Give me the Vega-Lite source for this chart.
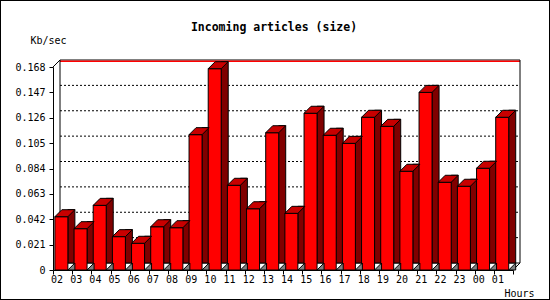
{
  "$schema": "https://vega.github.io/schema/vega-lite/v6.json",
  "width": 550,
  "height": 300,
  "autosize": "none",
  "padding": 0,
  "background": "white",
  "title": {
    "text": "Incoming articles (size)",
    "font": "DejaVu Sans Mono",
    "fontSize": 11.5,
    "fontWeight": "bold",
    "color": "black",
    "anchor": "middle",
    "frame": "group",
    "orient": "top",
    "offset": -42,
    "baseline": "alphabetic",
    "dx": -1
  },
  "config": {
    "view": {"stroke": "black", "strokeWidth": 2},
    "axis": {
      "labelFont": "DejaVu Sans Mono",
      "labelFontSize": 10,
      "labelColor": "black",
      "titleFont": "DejaVu Sans Mono",
      "titleFontSize": 10,
      "titleFontWeight": "normal",
      "titleColor": "black",
      "domainColor": "black",
      "tickColor": "black",
      "grid": false,
      "labelOverlap": false
    }
  },
  "data": {
    "values": [
      {"hour": "02", "kb": 0.0441},
      {"hour": "03", "kb": 0.0342},
      {"hour": "04", "kb": 0.0535},
      {"hour": "05", "kb": 0.0276},
      {"hour": "06", "kb": 0.0221},
      {"hour": "07", "kb": 0.0358},
      {"hour": "08", "kb": 0.0350},
      {"hour": "09", "kb": 0.1120},
      {"hour": "10", "kb": 0.1666},
      {"hour": "11", "kb": 0.0701},
      {"hour": "12", "kb": 0.0507},
      {"hour": "13", "kb": 0.1136},
      {"hour": "14", "kb": 0.0469},
      {"hour": "15", "kb": 0.1297},
      {"hour": "16", "kb": 0.1115},
      {"hour": "17", "kb": 0.1048},
      {"hour": "18", "kb": 0.1264},
      {"hour": "19", "kb": 0.1189},
      {"hour": "20", "kb": 0.0817},
      {"hour": "21", "kb": 0.1470},
      {"hour": "22", "kb": 0.0726},
      {"hour": "23", "kb": 0.0693},
      {"hour": "00", "kb": 0.0842},
      {"hour": "01", "kb": 0.1264}
    ]
  },
  "layer": [
    {
      "data": {"values": [{"level": 0.021}, {"level": 0.042}, {"level": 0.063}, {"level": 0.084}, {"level": 0.105}, {"level": 0.126}, {"level": 0.147}]},
      "mark": {"type": "rule", "color": "black", "strokeWidth": 1, "strokeDash": [2, 2], "xOffset": 7, "x2Offset": 7, "yOffset": -7},
      "encoding": {
        "x": {"datum": "02", "type": "ordinal", "bandPosition": 0},
        "x2": {"datum": "01", "bandPosition": 1},
        "y": {"field": "level", "type": "quantitative"}
      }
    },
    {
      "data": {"values": [{}]},
      "layer": [
        {
          "mark": {"type": "rule", "color": "black", "strokeWidth": 1, "xOffset": 7, "x2Offset": 7, "yOffset": -7},
          "encoding": {
            "x": {"datum": "02", "type": "ordinal", "bandPosition": 0},
            "x2": {"datum": "01", "bandPosition": 1},
            "y": {"datum": 0.168, "type": "quantitative"}
          }
        },
        {
          "mark": {"type": "rule", "color": "#ff0000", "strokeWidth": 1.5, "xOffset": 7, "x2Offset": 7, "yOffset": -5.8},
          "encoding": {
            "x": {"datum": "02", "type": "ordinal", "bandPosition": 0},
            "x2": {"datum": "01", "bandPosition": 1},
            "y": {"datum": 0.168, "type": "quantitative"}
          }
        },
        {
          "mark": {"type": "rule", "color": "black", "strokeWidth": 1, "xOffset": 7, "x2Offset": 7, "yOffset": -7},
          "encoding": {
            "x": {"datum": "02", "type": "ordinal", "bandPosition": 0},
            "x2": {"datum": "01", "bandPosition": 1},
            "y": {"datum": 0, "type": "quantitative"}
          }
        },
        {
          "mark": {"type": "rule", "color": "black", "strokeWidth": 1, "xOffset": 7, "yOffset": -7, "y2Offset": -7},
          "encoding": {
            "x": {"datum": "02", "type": "ordinal", "bandPosition": 0},
            "y": {"datum": 0.168, "type": "quantitative"},
            "y2": {"datum": 0}
          }
        },
        {
          "mark": {"type": "rule", "color": "black", "strokeWidth": 1, "xOffset": 7, "yOffset": -7, "y2Offset": -7},
          "encoding": {
            "x": {"datum": "01", "type": "ordinal", "bandPosition": 1},
            "y": {"datum": 0.168, "type": "quantitative"},
            "y2": {"datum": 0}
          }
        },
        {
          "mark": {"type": "rule", "color": "black", "strokeWidth": 1, "x2Offset": 7, "y2Offset": -7},
          "encoding": {
            "x": {"datum": "02", "type": "ordinal", "bandPosition": 0},
            "x2": {"datum": "02", "bandPosition": 0},
            "y": {"datum": 0.168, "type": "quantitative"},
            "y2": {"datum": 0.168}
          }
        },
        {
          "mark": {"type": "rule", "color": "black", "strokeWidth": 1, "x2Offset": 7, "y2Offset": -7},
          "encoding": {
            "x": {"datum": "01", "type": "ordinal", "bandPosition": 1},
            "x2": {"datum": "01", "bandPosition": 1},
            "y": {"datum": 0, "type": "quantitative"},
            "y2": {"datum": 0}
          }
        }
      ]
    },
    {
      "mark": {"type": "bar", "width": 7, "xOffset": 8.8, "yOffset": -7, "fill": "#800000", "stroke": "black", "strokeWidth": 1},
      "encoding": {
        "x": {
          "field": "hour", "type": "ordinal",
          "scale": {"type": "band", "domain": ["02","03","04","05","06","07","08","09","10","11","12","13","14","15","16","17","18","19","20","21","22","23","00","01"], "range": [53, 513], "paddingInner": 0, "paddingOuter": 0},
          "axis": {
            "title": "Hours", "orient": "bottom", "offset": -30, "tickBand": "extent", "tickSize": 4,
            "labelPadding": 5, "labelAngle": 0, "labelFlush": false,
            "titleX": 534, "titleY": 26, "titleAlign": "right", "titleBaseline": "alphabetic"
          }
        },
        "y": {
          "field": "kb", "type": "quantitative",
          "scale": {"domain": [0, 0.168], "range": [270, 67], "nice": false, "zero": true},
          "axis": {
            "title": "Kb/sec", "orient": "left", "offset": -53,
            "values": [0, 0.021, 0.042, 0.063, 0.084, 0.105, 0.126, 0.147, 0.168],
            "tickCount": 20,
            "labelExpr": "datum.value == 0 ? '0' : format(datum.value, '.3f')",
            "tickSize": 4, "labelPadding": 4, "labelFlush": false, "labelOverlap": false,
            "titleAngle": 0, "titleX": -23, "titleY": 43, "titleAlign": "left", "titleBaseline": "alphabetic"
          }
        }
      }
    },
    {
      "mark": {"type": "bar", "width": 13, "xOffset": -1.2, "fill": "#ff0000", "stroke": "black", "strokeWidth": 1},
      "encoding": {
        "x": {"field": "hour", "type": "ordinal"},
        "y": {"field": "kb", "type": "quantitative"}
      }
    },
    {
      "mark": {"type": "point", "shape": "M-7.7,0L5.3,0L12.3,-7L-0.7,-7Z", "size": 4, "filled": true, "fill": "#c80000", "stroke": "black", "strokeWidth": 1, "opacity": 1},
      "encoding": {
        "x": {"field": "hour", "type": "ordinal"},
        "y": {"field": "kb", "type": "quantitative"}
      }
    },
    {
      "mark": {"type": "point", "shape": "M5.3,0L12.3,-7L12.3,0Z", "size": 4, "filled": true, "fill": "#808080", "stroke": "black", "strokeWidth": 1, "opacity": 1},
      "encoding": {
        "x": {"field": "hour", "type": "ordinal"},
        "y": {"datum": 0, "type": "quantitative"}
      }
    }
  ]
}
